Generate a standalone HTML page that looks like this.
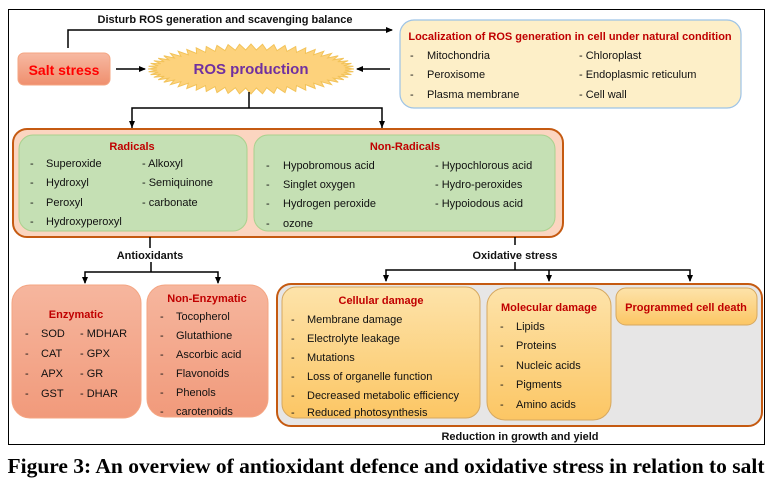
<!DOCTYPE html>
<html><head><meta charset="utf-8"><style>
html,body{margin:0;padding:0;background:#fff;width:773px;height:493px;overflow:hidden}
svg{display:block}
text{font-family:"Liberation Sans",sans-serif;font-size:11px;fill:#111}
.b{font-weight:bold}
.r{fill:#c00000;font-weight:bold;font-size:11px}
</style></head><body>
<svg width="773" height="493" viewBox="0 0 773 493" xmlns="http://www.w3.org/2000/svg">
<defs>
<marker id="a" markerWidth="8" markerHeight="8" refX="6" refY="4" orient="auto" markerUnits="userSpaceOnUse"><path d="M0,1 L7,4 L0,7 z" fill="#000"/></marker>
<linearGradient id="sal" x1="0" y1="0" x2="0" y2="1"><stop offset="0" stop-color="#f7b9a2"/><stop offset="1" stop-color="#ef8f6e"/></linearGradient>
<linearGradient id="sal2" x1="0" y1="0" x2="0" y2="1"><stop offset="0" stop-color="#f6b69e"/><stop offset="1" stop-color="#f19a7b"/></linearGradient>
<linearGradient id="yel" x1="0" y1="0" x2="0" y2="1"><stop offset="0" stop-color="#fde3aa"/><stop offset="1" stop-color="#fcc664"/></linearGradient>
</defs>
<rect x="8.5" y="9.5" width="756" height="435" fill="#fff" stroke="#000" stroke-width="1"/>
<text x="225" y="23" text-anchor="middle" class="b" font-size="10.5">Disturb ROS generation and scavenging balance</text>
<polyline points="68,48 68,30 392,30" fill="none" stroke="#000" stroke-width="1.5" marker-end="url(#a)"/>
<rect x="18" y="53" width="92" height="32" rx="6" fill="url(#sal)" stroke="#f4a582"/>
<text x="64" y="75" text-anchor="middle" style="font-weight:bold;font-size:14px;fill:#ff0000">Salt stress</text>
<line x1="116" y1="69" x2="145" y2="69" stroke="#000" stroke-width="1.5" marker-end="url(#a)"/>
<line x1="390" y1="69" x2="357" y2="69" stroke="#000" stroke-width="1.5" marker-end="url(#a)"/>
<polygon id="star" points="" fill="#fdd27c" stroke="#f2c35a" stroke-width="1"/>
<text x="251" y="74" text-anchor="middle" style="font-weight:bold;font-size:15px;fill:#7030a0">ROS production</text>
<rect x="400" y="20" width="341" height="88" rx="14" fill="#fdefc8" stroke="#9dc3e6" stroke-width="1.2"/>
<text x="570" y="40" text-anchor="middle" class="r">Localization of ROS generation in cell under natural condition</text>
<text x="410" y="59">-</text><text x="427" y="59">Mitochondria</text><text x="579" y="59">- Chloroplast</text>
<text x="410" y="78">-</text><text x="427" y="78">Peroxisome</text><text x="579" y="78">- Endoplasmic reticulum</text>
<text x="410" y="98">-</text><text x="427" y="98">Plasma membrane</text><text x="579" y="98">- Cell wall</text>
<polyline points="249,92 249,108" fill="none" stroke="#000" stroke-width="1.5"/>
<polyline points="132,128 132,108 382,108 382,128" fill="none" stroke="#000" stroke-width="1.5"/>
<line x1="132" y1="118" x2="132" y2="127" stroke="#000" marker-end="url(#a)"/>
<line x1="382" y1="118" x2="382" y2="127" stroke="#000" marker-end="url(#a)"/>
<rect x="13" y="129" width="550" height="108" rx="14" fill="#fbd5c0" stroke="#c55a11" stroke-width="2"/>
<rect x="19" y="135" width="228" height="96" rx="14" fill="#c5e0b4" stroke="#a9d18e"/>
<rect x="254" y="135" width="301" height="96" rx="14" fill="#c5e0b4" stroke="#a9d18e"/>
<text x="132" y="150" text-anchor="middle" class="r">Radicals</text>
<text x="30" y="167">-</text><text x="46" y="167">Superoxide</text><text x="142" y="167">- Alkoxyl</text>
<text x="30" y="186">-</text><text x="46" y="186">Hydroxyl</text><text x="142" y="186">- Semiquinone</text>
<text x="30" y="206">-</text><text x="46" y="206">Peroxyl</text><text x="142" y="206">- carbonate</text>
<text x="30" y="225">-</text><text x="46" y="225">Hydroxyperoxyl</text>
<text x="405" y="150" text-anchor="middle" class="r">Non-Radicals</text>
<text x="266" y="169">-</text><text x="283" y="169">Hypobromous acid</text><text x="435" y="169">- Hypochlorous acid</text>
<text x="266" y="188">-</text><text x="283" y="188">Singlet oxygen</text><text x="435" y="188">- Hydro-peroxides</text>
<text x="266" y="207">-</text><text x="283" y="207">Hydrogen peroxide</text><text x="435" y="207">- Hypoiodous acid</text>
<text x="266" y="227">-</text><text x="283" y="227">ozone</text>
<line x1="150" y1="237" x2="150" y2="248" stroke="#000" stroke-width="1.5"/>
<text x="150" y="259" text-anchor="middle" class="b" font-size="13.5">Antioxidants</text>
<polyline points="151,262 151,272" fill="none" stroke="#000" stroke-width="1.5"/>
<polyline points="85,283 85,272 218,272 218,283" fill="none" stroke="#000" stroke-width="1.5"/>
<line x1="85" y1="276" x2="85" y2="283" stroke="#000" marker-end="url(#a)"/>
<line x1="218" y1="276" x2="218" y2="283" stroke="#000" marker-end="url(#a)"/>
<rect x="12" y="285" width="129" height="133" rx="18" fill="url(#sal2)" stroke="#f4a582"/>
<text x="76" y="318" text-anchor="middle" class="r">Enzymatic</text>
<text x="25" y="337">-</text><text x="41" y="337">SOD</text><text x="80" y="337">- MDHAR</text>
<text x="25" y="357">-</text><text x="41" y="357">CAT</text><text x="80" y="357">- GPX</text>
<text x="25" y="377">-</text><text x="41" y="377">APX</text><text x="80" y="377">- GR</text>
<text x="25" y="397">-</text><text x="41" y="397">GST</text><text x="80" y="397">- DHAR</text>
<rect x="147" y="285" width="121" height="132" rx="18" fill="url(#sal2)" stroke="#f4a582"/>
<text x="207" y="302" text-anchor="middle" class="r">Non-Enzymatic</text>
<text x="160" y="320">-</text><text x="176" y="320">Tocopherol</text>
<text x="160" y="339">-</text><text x="176" y="339">Glutathione</text>
<text x="160" y="358">-</text><text x="176" y="358">Ascorbic acid</text>
<text x="160" y="377">-</text><text x="176" y="377">Flavonoids</text>
<text x="160" y="396">-</text><text x="176" y="396">Phenols</text>
<text x="160" y="415">-</text><text x="176" y="415">carotenoids</text>
<line x1="515" y1="237" x2="515" y2="245" stroke="#000" stroke-width="1.5"/>
<text x="515" y="259" text-anchor="middle" class="b" font-size="13.5">Oxidative stress</text>
<line x1="515" y1="262" x2="515" y2="270" stroke="#000" stroke-width="1.5"/>
<polyline points="386,281 386,270 690,270 690,281" fill="none" stroke="#000" stroke-width="1.5"/>
<line x1="386" y1="274" x2="386" y2="281" stroke="#000" marker-end="url(#a)"/>
<line x1="549" y1="270" x2="549" y2="281" stroke="#000" stroke-width="1.5" marker-end="url(#a)"/>
<line x1="690" y1="274" x2="690" y2="281" stroke="#000" marker-end="url(#a)"/>
<rect x="277" y="284" width="485" height="142" rx="14" fill="#e7e6e6" stroke="#c55a11" stroke-width="2"/>
<rect x="282" y="287" width="198" height="131" rx="14" fill="url(#yel)" stroke="#d6a860"/>
<text x="381" y="304" text-anchor="middle" class="r">Cellular damage</text>
<text x="291" y="323">-</text><text x="307" y="323">Membrane damage</text>
<text x="291" y="342">-</text><text x="307" y="342">Electrolyte leakage</text>
<text x="291" y="361">-</text><text x="307" y="361">Mutations</text>
<text x="291" y="380">-</text><text x="307" y="380">Loss of organelle function</text>
<text x="291" y="399">-</text><text x="307" y="399">Decreased metabolic efficiency</text>
<text x="291" y="416">-</text><text x="307" y="416">Reduced photosynthesis</text>
<rect x="487" y="288" width="124" height="132" rx="18" fill="url(#yel)" stroke="#d6a860"/>
<text x="549" y="311" text-anchor="middle" class="r">Molecular damage</text>
<text x="500" y="330">-</text><text x="516" y="330">Lipids</text>
<text x="500" y="349">-</text><text x="516" y="349">Proteins</text>
<text x="500" y="369">-</text><text x="516" y="369">Nucleic acids</text>
<text x="500" y="388">-</text><text x="516" y="388">Pigments</text>
<text x="500" y="408">-</text><text x="516" y="408">Amino acids</text>
<rect x="616" y="288" width="141" height="37" rx="10" fill="url(#yel)" stroke="#d6a860"/>
<text x="686" y="311" text-anchor="middle" class="r">Programmed cell death</text>
<text x="520" y="440" text-anchor="middle" class="b" font-size="10.5">Reduction in growth and yield</text>
<text x="386" y="473" text-anchor="middle" textLength="757" lengthAdjust="spacingAndGlyphs" style="font-family:'Liberation Serif',serif;font-weight:bold;font-size:21px;fill:#000">Figure 3: An overview of antioxidant defence and oxidative stress in relation to salt</text>
</svg>
<script>
(function(){var cx=251,cy=69,n=56,p=[];for(var i=0;i<n*2;i++){var t=Math.PI*i/n;var o=i%2==0;var rx=o?103:94,ry=o?25:19;p.push((cx+rx*Math.cos(t)).toFixed(1)+","+(cy+ry*Math.sin(t)).toFixed(1));}document.getElementById("star").setAttribute("points",p.join(" "));})();
</script>
</body></html>
